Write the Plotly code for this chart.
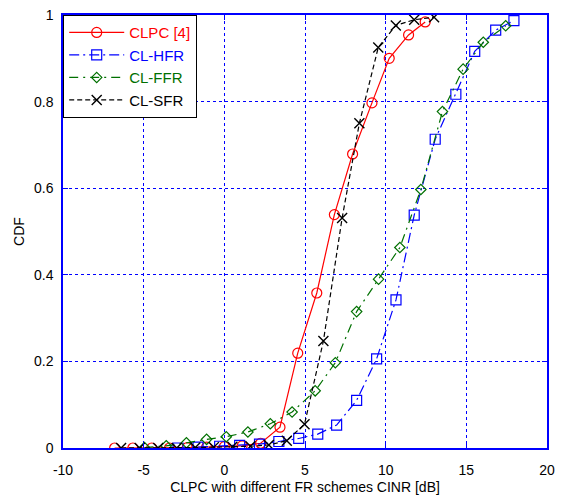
import plotly.graph_objects as go

clpc_x = [-6.8, -5.67, -4.5, -3.4, -2.3, -1.1, 0.0, 1.1, 2.25, 3.45, 4.55, 5.73, 6.82, 7.95, 9.15, 10.22, 11.42, 12.45]
clpc_y = [0, 0, 0, 0, 0.001, 0.002, 0.003, 0.005, 0.011, 0.048, 0.219, 0.358, 0.539, 0.679, 0.797, 0.9, 0.954, 0.984]

hfr_x = [-2.87, -1.63, -0.29, 0.95, 2.18, 3.38, 4.61, 5.79, 6.96, 8.2, 9.44, 10.64, 11.77, 13.07, 14.35, 15.52, 16.82, 17.95]
hfr_y = [0, 0.002, 0.004, 0.006, 0.009, 0.015, 0.022, 0.032, 0.053, 0.11, 0.206, 0.342, 0.538, 0.713, 0.817, 0.916, 0.965, 0.987]

ffr_x = [-4.95, -3.6, -2.35, -1.1, 0.12, 1.46, 2.85, 4.2, 5.63, 6.88, 8.2, 9.56, 10.88, 12.18, 13.52, 14.8, 16.05, 17.44]
ffr_y = [0.001, 0.005, 0.012, 0.02, 0.026, 0.037, 0.056, 0.083, 0.132, 0.197, 0.315, 0.39, 0.463, 0.597, 0.777, 0.875, 0.937, 0.975]

sfr_x = [-6.4, -5.25, -4.1, -2.95, -1.8, -0.65, 0.5, 1.62, 2.76, 3.87, 4.97, 6.14, 7.3, 8.37, 9.54, 10.63, 11.77, 13.0]
sfr_y = [0, 0, 0, 0, 0.001, 0.002, 0.003, 0.004, 0.007, 0.017, 0.055, 0.247, 0.531, 0.75, 0.925, 0.976, 0.989, 0.995]

x_ticks = [-10, -5, 0, 5, 10, 15, 20]
y_ticks = [0, 0.2, 0.4, 0.6, 0.8, 1]
y_tick_labels = ["0", "0.2", "0.4", "0.6", "0.8", "1"]

names = ["CLPC [4]", "CL-HFR", "CL-FFR", "CL-SFR"]

fig = go.Figure()
fig.add_trace(go.Scatter(
    x=clpc_x, y=clpc_y, mode="lines+markers",
    name='<span style="color:#ff0000">' + names[0] + '</span>',
    line=dict(color="#ff0000", width=1.2, dash="solid"),
    marker=dict(symbol="circle-open", size=10, color="#ff0000", line=dict(width=1.2)),
))
fig.add_trace(go.Scatter(
    x=hfr_x, y=hfr_y, mode="lines+markers",
    name='<span style="color:#0000ff">' + names[1] + '</span>',
    line=dict(color="#0000ff", width=1.2, dash="10px,4px,2px,4px"),
    marker=dict(symbol="square-open", size=10, color="#0000ff", line=dict(width=1.2)),
))
fig.add_trace(go.Scatter(
    x=ffr_x, y=ffr_y, mode="lines+markers",
    name='<span style="color:#007000">' + names[2] + '</span>',
    line=dict(color="#007000", width=1.2, dash="9px,5px,2px,5px"),
    marker=dict(symbol="diamond-open", size=8, color="#007000", line=dict(width=1.2)),
))
fig.add_trace(go.Scatter(
    x=sfr_x, y=sfr_y, mode="lines+markers",
    name='<span style="color:#000000">' + names[3] + '</span>',
    line=dict(color="#000000", width=1.2, dash="5px,3px"),
    marker=dict(symbol="x-thin-open", size=10, color="#000000", line=dict(width=1.4, color="#000000")),
))

axis_common = dict(
    showline=True, linecolor="#0000ff", linewidth=1.5, mirror="ticks",
    ticks="inside", tickcolor="#0000ff", ticklen=5,
    showgrid=True, gridcolor="#0000ff", griddash="dot", gridwidth=1,
    zeroline=False,
    tickfont=dict(family="Liberation Sans, Arial", size=14, color="#000000"),
)

fig.update_xaxes(
    range=[-10, 20], tickvals=x_ticks, ticktext=[str(v) for v in x_ticks],
    ticklabelstandoff=8,
    title=dict(text="CLPC with different FR schemes CINR [dB]",
               font=dict(family="Liberation Sans, Arial", size=14, color="#000000"), standoff=6),
    **axis_common,
)
fig.update_yaxes(
    range=[0, 1], tickvals=y_ticks, ticktext=y_tick_labels,
    ticklabelstandoff=5,
    title=dict(text="CDF", font=dict(family="Liberation Sans, Arial", size=14, color="#000000"), standoff=6),
    **axis_common,
)

fig.update_layout(
    width=561, height=499,
    margin=dict(l=63, r=6, t=15, b=51),
    paper_bgcolor="white", plot_bgcolor="white",
    showlegend=True,
    legend=dict(
        x=0, y=1, xanchor="left", yanchor="top",
        bgcolor="white", bordercolor="#000000", borderwidth=1.2,
        font=dict(family="Liberation Sans, Arial", size=15, color="#000000"),
        itemwidth=55, tracegroupgap=0,
    ),
)

fig.write_html("out.html")
